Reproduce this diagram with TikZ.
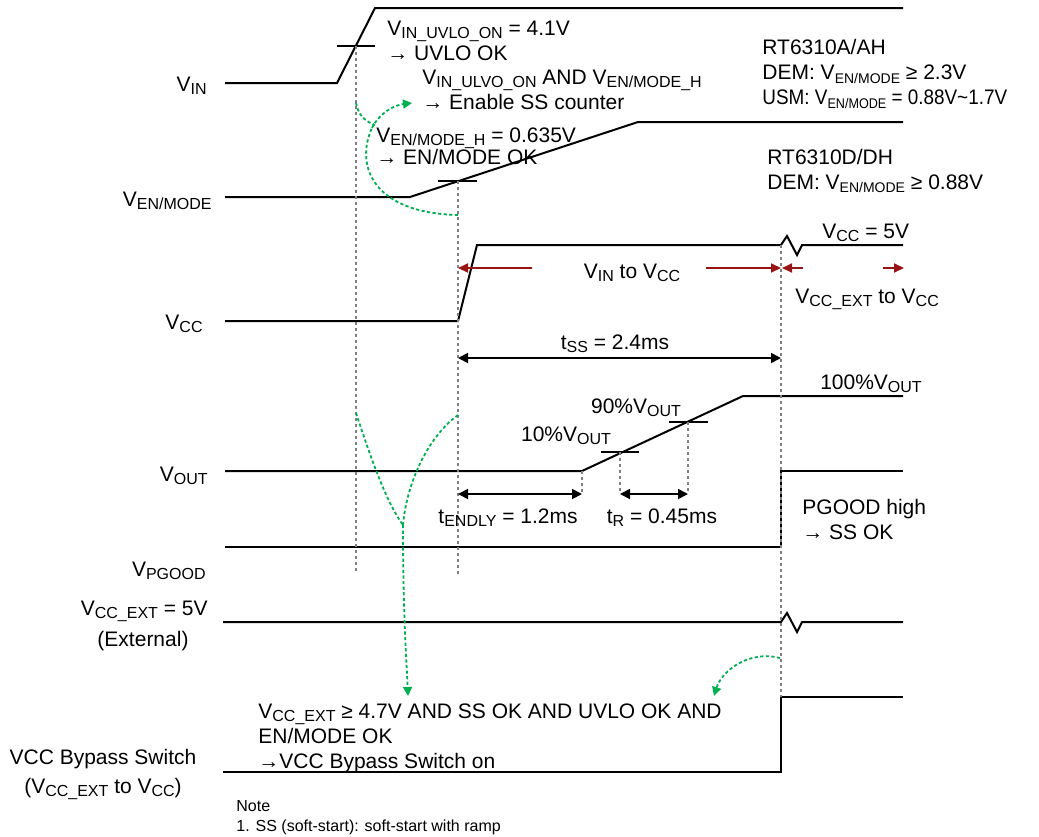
\documentclass[tikz,border=0pt]{standalone}
\usepackage{fontspec}
\setmainfont{Liberation Sans}
\usetikzlibrary{arrows.meta}

\definecolor{okgreen}{RGB}{0,176,80}
\definecolor{pathred}{RGB}{150,20,20}
\newcommand{\lo}[2][8]{\raisebox{-1.6pt}{\fontsize{#1}{#1}\selectfont #2}}

\begin{document}
\begin{tikzpicture}[x=0.5pt,y=-0.5pt]
	\tikzstyle{mysig}=[line width=1pt]
	\tikzstyle{mytick}=[line width=0.9pt]
	\tikzstyle{myguide}=[draw=gray, line width=0.6pt, dash pattern=on 1.5pt off 1.5pt]
	\tikzstyle{mydim}=[<->, >={Triangle[length=5pt, width=5pt]}, line width=0.9pt]
	\tikzstyle{myred}=[->, >={Triangle[length=5pt, width=4.5pt]}, draw=pathred, line width=1pt]
	\tikzstyle{mygreen}=[draw=okgreen, line width=0.9pt, dash pattern=on 1.6pt off 1.2pt]
	% tip only on the last piece
	\tikzstyle{mygreentip}=[mygreen, -{Triangle[length=4.5pt, width=4.5pt]}]

	\tikzstyle{mydesc}=[inner sep=0pt, align=left, font=\fontsize{10.5}{12.5}\selectfont]
	\tikzstyle{mylabel}=[mydesc, anchor=east]
	\tikzstyle{mynote}=[inner sep=0pt, anchor=west, font=\fontsize{8}{9}\selectfont]

	\useasboundingbox (0,0) rectangle (1039,836);

	\coordinate (uvlo) at (356,46);
	\coordinate (enh) at (458,181);
	\coordinate (sw) at (781,245);
	\coordinate (outst) at (582,471);
	\coordinate (out10) at (620,452);
	\coordinate (out90) at (688,422);
	\coordinate (redrow) at (0,268);
	\coordinate (tssrow) at (0,358);
	\coordinate (dimrow) at (0,494);

	% waveforms
	\draw[mysig] (225,83) -- (337,83) -- (375,8) -- (903,8);
	\draw[mysig] (225,197) -- (410,197) -- (638,122) -- (903,122);
	\draw[mysig] (225,321) -- (458,321) -- (477,245) -- (sw) -- ++(6,-9) -- ++(10,19) -- ++(5,-10) -- (903,245);
	\draw[mysig] (225,471) -- (outst) -- (743,396) -- (903,396);
	\draw[mysig] (225,547) -- (781,547) -- (781,471) -- (903,471);
	\draw[mysig] (223,622) -- (781,622) -- ++(6,-9) -- ++(10,19) -- ++(5,-10) -- (903,622);
	\draw[mysig] (223,772) -- (781,772) -- (781,697) -- (903,697);

	% threshold marks
	\draw[mytick] ([xshift=-9.5pt] uvlo) -- ([xshift=9.5pt] uvlo);
	\draw[mytick] ([xshift=-10pt] enh) -- ([xshift=9.5pt] enh);
	\draw[mytick] ([xshift=-9.5pt] out10) -- ([xshift=9.5pt] out10);
	\draw[mytick] ([xshift=-9.5pt] out90) -- ([xshift=10pt] out90);

	% guides
	\draw[myguide] (uvlo) -- (356,572);
	\draw[myguide] (enh) -- (458,575);
	\draw[myguide] (sw) -- (781,697);
	\draw[myguide] (outst) -- (outst |- dimrow);
	\draw[myguide] (out10) -- (out10 |- dimrow);
	\draw[myguide] (out90) -- (out90 |- dimrow);

	% timings
	\draw[mydim] (enh |- tssrow) -- (sw |- tssrow);
	\draw[mydim] (enh |- dimrow) -- (outst |- dimrow);
	\draw[mydim] (out10 |- dimrow) -- (out90 |- dimrow);

	\draw[myred] (532,268) -- (enh |- redrow);
	\draw[myred] (706,268) -- (sw |- redrow);
	\draw[myred] (803,268) -- ([xshift=0.5pt] sw |- redrow);
	\draw[myred] (883,268) -- (904,268);

	% green hints
	\draw[mygreen] (356,103) .. controls (358,114) and (364,121) .. (375,125);
	\draw[mygreen] (458,215) .. controls (372,213) and (355,165) .. (372,128);
	\draw[mygreentip] (372,128) .. controls (380,112) and (395,105) .. (412,103);
	\draw[mygreen] (356,413) .. controls (370,455) and (385,500) .. (403,525);
	\draw[mygreen] (458,415) .. controls (430,435) and (407,480) .. (403,525);
	\draw[mygreentip] (403,525) .. controls (403,610) and (406,650) .. (408,696);
	\draw[mygreentip] (780,658) .. controls (750,650) and (722,670) .. (714,696);

	% signal names
	\node[mylabel] (vin) at (207,86) {V\lo{IN}};
	\node[mylabel] (ven) at (212,201) {V\lo{EN/MODE}};
	\node[mylabel] (vcc) at (203,324) {V\lo{CC}};
	\node[mylabel] (vout) at (208,476) {V\lo{OUT}};
	\node[mylabel] (vpg) at (206,571) {V\lo{PGOOD}};
	\node[mylabel] (vext) at (208,611) {V\lo{CC\_EXT} = 5V};
	\node[mydesc] (vextnote) at (143,641) {(External)};
	\node[mydesc] (bypass) at (103,759) {VCC Bypass Switch};
	\node[mydesc] (bypassnote) at (103,789) {(V\lo{CC\_EXT} to V\lo{CC})};

	% notes
	\node[mydesc, anchor=west] (uvlook) at (387,41) {V\lo{IN\_UVLO\_ON} = 4.1V\\→ UVLO OK};
	\node[mydesc, anchor=west] (sson) at (422,90) {V\lo{IN\_ULVO\_ON} AND V\lo{EN/MODE\_H}\\→ Enable SS counter};
	\node[mydesc, anchor=west] (enok) at (376,146) {V\lo{EN/MODE\_H} = 0.635V\\[-1.5pt]→ EN/MODE OK};
	\node[mydesc, anchor=west] (rta) at (762,74) {RT6310A/AH\\DEM: V\lo[7]{EN/MODE} ≥ 2.3V\\\scalebox{0.9}[1]{USM: V\lo[7]{EN/MODE} = 0.88V\textasciitilde1.7V}};
	\node[mydesc, anchor=west] (rtd) at (767,171) {RT6310D/DH\\DEM: V\lo[7]{EN/MODE} ≥ 0.88V};
	\node[mydesc, anchor=west] (vcc5) at (822,233) {V\lo{CC} = 5V};
	\node[mydesc] (vinvcc) at (632,273) {V\lo{IN} to V\lo{CC}};
	\node[mydesc, anchor=west] (extvcc) at (795,299) {V\lo{CC\_EXT} to V\lo{CC}};
	\node[mydesc] (tss) at (615,344) {t\lo{SS} = 2.4ms};
	\node[mydesc] (full) at (871,384) {100\%V\lo{OUT}};
	\node[mydesc] (p90) at (636,408) {90\%V\lo{OUT}};
	\node[mydesc] (p10) at (566,436) {10\%V\lo{OUT}};
	\node[mydesc] (tendly) at (508,518) {t\lo{ENDLY} = 1.2ms};
	\node[mydesc] (tr) at (662,518) {t\lo{R} = 0.45ms};
	\node[mydesc, anchor=west] (pgok) at (802,519) {PGOOD high\\→ SS OK};
	\node[mydesc, anchor=west] (swon) at (258,738) {V\lo{CC\_EXT} ≥ 4.7V AND SS OK AND UVLO OK AND\\EN/MODE OK\\→VCC Bypass Switch on};

	\node[mynote] (note) at (236,806) {Note};
	\node[mynote] (note1) at (236,827) {1. SS (soft-start): soft-start with ramp};
\end{tikzpicture}
\end{document}
